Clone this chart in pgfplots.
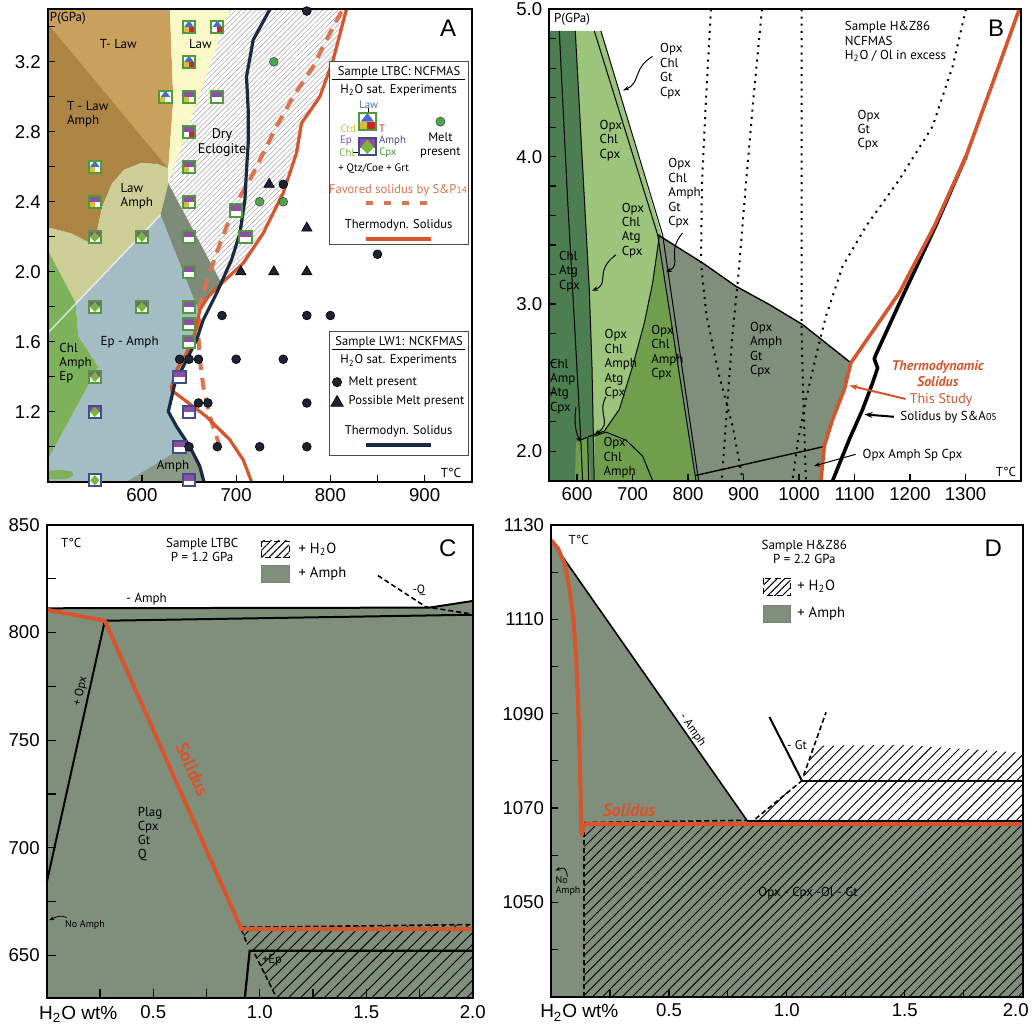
\documentclass[border=0pt]{standalone}
\usepackage{pgfplots}
\pgfplotsset{compat=1.18}
\usepackage{fontspec}
\setmainfont{PT Sans}
\newfontfamily\tickfont{Liberation Sans}
\usetikzlibrary{patterns.meta,arrows.meta}

\definecolor{tlaw}{HTML}{C9A15D}
\definecolor{tlawamph}{HTML}{AC8443}
\definecolor{lawamph}{HTML}{CDCD98}
\definecolor{lawy}{HTML}{FCF9C9}
\definecolor{epamph}{HTML}{A4BCC4}
\definecolor{chlg}{HTML}{7DB25B}
\definecolor{bandg}{HTML}{7E8B78}
\definecolor{amphg}{HTML}{8A9A86}
\definecolor{oran}{HTML}{D6552C}
\definecolor{oranl}{HTML}{DE7350}
\definecolor{navy}{HTML}{1B2A44}
\definecolor{sqgreen}{HTML}{4E9A3C}
\definecolor{sqnavy}{HTML}{3F4D8C}
\definecolor{purp}{HTML}{8D4FA6}
\definecolor{ctdy}{HTML}{D6BE3E}
\definecolor{tred}{HTML}{C8282A}
\definecolor{lawb}{HTML}{4A6CC4}
\definecolor{cpxg}{HTML}{7AB43C}
\definecolor{dotblk}{HTML}{1C2433}
\definecolor{meltg}{HTML}{4FA64A}
\definecolor{gBa}{HTML}{4C7E51}
\definecolor{gBb}{HTML}{9CC47B}
\definecolor{gBc}{HTML}{6F9F4C}
\definecolor{greyg}{HTML}{808F7B}

\pgfdeclareplotmark{amphtop}{\pgfpathrectangle{\pgfpoint{-\pgfplotmarksize}{-0.1\pgfplotmarksize}}{\pgfpoint{2\pgfplotmarksize}{1.1\pgfplotmarksize}}\pgfusepathqfill}
\pgfdeclareplotmark{ctdq}{\pgfpathrectangle{\pgfpoint{-\pgfplotmarksize}{-\pgfplotmarksize}}{\pgfpoint{\pgfplotmarksize}{\pgfplotmarksize}}\pgfusepathqfill}
\pgfdeclareplotmark{tq}{\pgfpathrectangle{\pgfpoint{0pt}{-\pgfplotmarksize}}{\pgfpoint{\pgfplotmarksize}{\pgfplotmarksize}}\pgfusepathqfill}
\pgfdeclareplotmark{lawtri}{\pgfpathmoveto{\pgfpoint{-0.75\pgfplotmarksize}{0pt}}\pgfpathlineto{\pgfpoint{0.75\pgfplotmarksize}{0pt}}\pgfpathlineto{\pgfpoint{0pt}{\pgfplotmarksize}}\pgfpathclose\pgfusepathqfill}
\pgfdeclareplotmark{cpxdia}{\pgfpathmoveto{\pgfpoint{0pt}{0.8\pgfplotmarksize}}\pgfpathlineto{\pgfpoint{0.75\pgfplotmarksize}{-0.05\pgfplotmarksize}}\pgfpathlineto{\pgfpoint{0pt}{-0.85\pgfplotmarksize}}\pgfpathlineto{\pgfpoint{-0.75\pgfplotmarksize}{-0.05\pgfplotmarksize}}\pgfpathclose\pgfusepathqfill}

\newcommand\labA{\fontsize{6.5}{7}\selectfont}
\newcommand\labB{\fontsize{6.5}{7.2}\selectfont}
\newcommand\legf{\fontsize{6.3}{7}\selectfont}
\newcommand\smallf{\fontsize{5.4}{6}\selectfont}
\newcommand\bigL{\tickfont\fontsize{12}{13}\selectfont}

\pgfplotsset{panel/.style={
  scale only axis, clip=false, axis on top,
  axis line style={line width=0.9pt},
  tick align=inside, tick pos=left,
  major tick length=3.5pt, minor tick length=3.5pt,
  tick style={black, line width=0.6pt},
  tick label style={font=\tickfont\fontsize{9.3}{10}\selectfont},
  /pgf/number format/assume math mode=true,
  /pgf/number format/1000 sep={},
}}

\begin{document}
\begin{tikzpicture}[x=1pt,y=1pt]
\path[use as bounding box] (0,0) rectangle (516,-512.5);

%%%%%%%%%%%%%%%%%%%%%%%%%%%%%% PANEL A
\begin{axis}[panel, at={(23.85pt,-4.65pt)}, anchor=north west, width=212pt, height=236.2pt,
  xmin=500, xmax=950, ymin=0.8, ymax=3.5,
  xtick={600,700,800,900}, xticklabels={600,700,800,900}, minor xtick={550,650,750,850},
  ytick={1.2,1.6,2.0,2.4,2.8,3.2}, yticklabels={1.2,1.6,2.0,2.4,2.8,3.2},
  minor ytick={1.0,1.4,1.8,2.2,2.6,3.0,3.4}]
\addplot[draw=none, fill=tlaw] coordinates {(500,3.5)(629.7,3.5)(633.3,2.982)(628,2.59)(500,3.42)} -- cycle;
\addplot[draw=none, fill=tlawamph] coordinates {(500,3.42)(628,2.59)(616.2,2.616)(598.6,2.62)(580.9,2.582)(568.5,2.506)(557.9,2.372)(552.6,2.239)(545.6,2.163)(524.4,2.22)(500,2.254)} -- cycle;
\addplot[draw=none, fill=lawamph] coordinates {(500,2.254)(524.4,2.22)(545.6,2.163)(552.6,2.239)(557.9,2.372)(568.5,2.506)(580.9,2.582)(598.6,2.62)(616.2,2.616)(628,2.59)(628,2.506)(619.8,2.325)(500,1.649)} -- cycle;
\addplot[draw=none, fill=lawy] coordinates {(629.7,3.5)(693.4,3.5)(628,2.506)(628,2.59)(633.3,2.982)} -- cycle;
\addplot[draw=none, fill=epamph] coordinates {(529.7,1.82)(619.8,2.325)(656.9,1.82)(661.5,1.782)(658,1.61)(647.4,1.496)(635,1.363)(628,1.201)(636.8,1.115)(650.9,1.0)(661.5,0.887)(665.8,0.8)(500,0.8)(500,0.925)(553.7,1.458)(532.5,1.63)} -- cycle;
\addplot[draw=none, fill=chlg] coordinates {(500,2.124)(529.7,1.82)(532.5,1.63)(553.7,1.458)(500,0.925)} -- cycle;
\addplot[draw=none, fill=chlg] coordinates {(500,0.862)(515,0.868)(526,0.858)(527,0.835)(520,0.815)(500,0.815)} -- cycle;
\addplot[draw=none, fill=amphg] coordinates {(583.8,0.8)(642.1,0.991)(650.9,1.0)(661.5,0.887)(665.8,0.8)} -- cycle;
\addplot[draw=none, fill=bandg] coordinates {(628,2.506)(684.5,1.934)(670.4,1.858)(661.5,1.782)(656.9,1.82)(619.8,2.325)} -- cycle;
\addplot[draw=none, pattern={Lines[angle=45,distance=1.8pt,line width=0.3pt]}, pattern color=gray!65] coordinates {(693.4,3.5)(817.1,3.5)(802.9,3.21)(788.8,3.0)(769.4,2.849)(764,2.677)(749.9,2.449)(728.7,2.22)(707.5,2.049)(684.5,1.934)(628,2.506)} -- cycle;
\addplot[white, line width=0.7pt, opacity=0.7] coordinates {(500,1.649)(619.8,2.325)};
% solidus lines
\addplot[oranl, line width=2pt, dash pattern=on 6pt off 4pt] coordinates {(811.8,3.487)(799.4,3.363)(781.7,3.172)(760.5,3.0)(742.8,2.83)(728.7,2.677)(714.6,2.525)(704,2.43)(689.8,2.258)(679.2,2.106)(670.4,1.972)(665.1,1.877)(661.5,1.8)(659.8,1.649)(661.5,1.496)(665.1,1.344)(672.1,1.172)(682.7,1.0)};
\addplot[oran, line width=1.6pt, line join=round] coordinates {(817.1,3.5)(802.9,3.21)(788.8,3.0)(769.4,2.849)(764,2.677)(749.9,2.449)(728.7,2.22)(707.5,2.049)(684.5,1.934)(670.4,1.858)(661.5,1.782)(656.2,1.649)(647.4,1.534)(636.8,1.439)(631.5,1.344)(632,1.32)(640.3,1.287)(668.6,1.172)(693.4,1.039)(707.5,0.925)(716.3,0.8)};
\addplot[navy, line width=1.6pt, line join=round] coordinates {(735.8,3.5)(718.1,3.325)(711,3.115)(712.8,2.925)(712.8,2.734)(711,2.582)(709.3,2.41)(704,2.22)(695.1,2.068)(679.2,1.877)(665.1,1.725)(658,1.61)(647.4,1.496)(635,1.363)(628,1.201)(636.8,1.115)(650.9,1.0)(661.5,0.887)(665.8,0.8)};
% experiment squares
\addplot[only marks, mark=square*, mark size=3.1pt, mark options={fill=white, draw=none}] coordinates {(650,3.4)(680,3.4)(650,3.2)(625,3.0)(650,3.0)(680,3.0)(650,2.8)(550,2.6)(650,2.6)(550,2.4)(650,2.4)(700,2.35)(550,2.2)(600,2.2)(650,2.2)(710,2.2)(650,2.0)(550,1.8)(600,1.8)(650,1.8)(650,1.7)(650,1.6)(550,1.4)(640,1.4)(550,1.2)(650,1.2)(640,1.0)(550,0.81)(650,0.81)};
\addplot[only marks, mark=amphtop, mark size=3.1pt, color=purp] coordinates {(650,3.0)(680,3.0)(650,2.8)(650,2.6)(550,2.4)(650,2.4)(700,2.35)(550,2.2)(600,2.2)(650,2.2)(710,2.2)(650,2.0)(550,1.8)(600,1.8)(650,1.8)(650,1.7)(650,1.6)(550,1.4)(640,1.4)(550,1.2)(650,1.2)(640,1.0)(650,0.81)};
\addplot[only marks, mark=ctdq, mark size=3.1pt, color=ctdy] coordinates {(650,3.4)(650,3.2)(625,3.0)(650,3.0)(550,2.6)(650,2.6)(550,2.4)(650,2.4)};
\addplot[only marks, mark=tq, mark size=3.1pt, color=tred] coordinates {(650,3.4)(680,3.4)(650,3.2)(650,2.8)};
\addplot[only marks, mark=lawtri, mark size=3.1pt, color=lawb] coordinates {(650,3.4)(680,3.4)(650,3.2)(625,3.0)(550,2.6)};
\addplot[only marks, mark=cpxdia, mark size=3.1pt, color=cpxg] coordinates {(550,2.2)(600,2.2)(550,1.8)(600,1.8)(550,1.4)(550,1.2)(550,0.81)};
\addplot[only marks, mark=square, mark size=3.1pt, mark options={draw=sqgreen, line width=1pt}] coordinates {(650,3.4)(680,3.4)(650,3.2)(625,3.0)(650,3.0)(680,3.0)(650,2.8)(550,2.6)(650,2.6)(550,2.4)(650,2.4)(700,2.35)(550,2.2)(600,2.2)(650,2.2)(710,2.2)(650,2.0)(550,1.8)(600,1.8)(650,1.8)(650,1.7)(650,1.6)(550,1.4)};
\addplot[only marks, mark=square, mark size=3.1pt, mark options={draw=sqnavy, line width=1pt}] coordinates {(640,1.4)(550,1.2)(650,1.2)(640,1.0)(550,0.81)(650,0.81)};
% melt markers
\addplot[only marks, mark=*, mark size=2.2pt, mark options={fill=dotblk, draw=black, line width=0.3pt}] coordinates {(775,3.49)(750,2.5)(685,1.75)(775,1.75)(800,1.75)(640,1.5)(650,1.5)(660,1.5)(700,1.5)(750,1.5)(660,1.25)(670,1.25)(775,1.25)(650,1.0)(680,1.0)(725,1.0)(775,1.0)(850,2.1)};
\addplot[only marks, mark=triangle*, mark size=3pt, mark options={fill=dotblk, draw=black, line width=0.3pt}] coordinates {(735,2.5)(705,2.0)(740,2.0)(775,2.0)(775,2.25)};
\addplot[only marks, mark=*, mark size=2.2pt, mark options={fill=meltg, draw=black!70, line width=0.3pt}] coordinates {(740,3.2)(725,2.4)(750,2.4)};
% labels
\node[font=\labA] at (axis cs:575,3.3) {T- Law};
\node[font=\labA] at (axis cs:662,3.3) {Law};
\node[font=\labA, align=left, anchor=west] at (axis cs:513,2.9) {T - Law\\Amph};
\node[font=\fontsize{7}{7.6}\selectfont, align=center] at (axis cs:685,2.74) {Dry\\Eclogite};
\node[font=\labA, align=left, anchor=west] at (axis cs:570,2.43) {Law\\Amph};
\node[font=\labA] at (axis cs:587,1.595) {Ep - Amph};
\node[font=\labA, align=left, anchor=west] at (axis cs:505,1.48) {Chl\\Amph\\Ep};
\node[font=\labA] at (axis cs:633,0.89) {Amph};
\node[font=\bigL] at (axis cs:925,3.39) {A};
\node[font=\labA, anchor=west, inner sep=0pt] at (axis cs:502,3.45) {P(GPa)};
\node[font=\labA] at (axis cs:928,0.852) {T°C};
% legend 1
\draw[gray!60!black, line width=0.5pt, fill=white] (axis cs:798.6,3.2) rectangle (axis cs:946.8,2.153);
\node[font=\legf] at (axis cs:873,3.138) {Sample LTBC: NCFMAS};
\draw[black, line width=0.5pt] (axis cs:802,3.096) -- (axis cs:943,3.096);
\node[font=\legf] at (axis cs:872.5,3.039) {H\textsubscript{2}O sat. Experiments};
\addplot[only marks, mark=square*, mark size=4.4pt, mark options={fill=white, draw=none}] coordinates {(839.3,2.858)(839.3,2.715)};
\addplot[only marks, mark=lawtri, mark size=4.4pt, color=lawb] coordinates {(839.3,2.858)};
\addplot[only marks, mark=ctdq, mark size=4.4pt, color=ctdy] coordinates {(839.3,2.858)};
\addplot[only marks, mark=tq, mark size=4.4pt, color=tred] coordinates {(839.3,2.858)};
\addplot[only marks, mark=amphtop, mark size=4.4pt, color=purp] coordinates {(839.3,2.715)};
\addplot[only marks, mark=cpxdia, mark size=4.4pt, color=cpxg] coordinates {(839.3,2.715)};
\addplot[only marks, mark=square, mark size=4.4pt, mark options={draw=sqgreen, line width=1pt}] coordinates {(839.3,2.858)};
\addplot[only marks, mark=square, mark size=4.4pt, mark options={draw=sqnavy, line width=1pt}] coordinates {(839.3,2.715)};
\draw[black, line width=0.4pt] (axis cs:840.7,2.935) -- (axis cs:840.7,2.895);
\draw[black, line width=0.4pt] (axis cs:824,2.681) -- (axis cs:838,2.681);
\node[font=\smallf, text=lawb] at (axis cs:840.7,2.953) {Law};
\node[font=\smallf, text=ctdy] at (axis cs:819,2.82) {Ctd};
\node[font=\smallf, text=tred] at (axis cs:855,2.82) {T};
\node[font=\smallf, text=purp] at (axis cs:816.5,2.749) {Ep};
\node[font=\smallf, text=sqnavy] at (axis cs:866,2.749) {Amph};
\node[font=\smallf, text=cpxg] at (axis cs:817.7,2.681) {Chl};
\node[font=\smallf, text=sqgreen] at (axis cs:861,2.681) {Cpx};
\node[font=\smallf] at (axis cs:846,2.591) {+ Qtz/Coe + Grt};
\addplot[only marks, mark=*, mark size=2.3pt, mark options={fill=meltg, draw=black!70, line width=0.3pt}] coordinates {(916.8,2.858)};
\node[font=\legf, align=center] at (axis cs:916.8,2.725) {Melt\\present};
\node[font=\legf, text=oranl] at (axis cs:871.8,2.463) {Favored solidus by S\&P{\fontsize{4.8}{5}\selectfont 14}};
\addplot[oranl, line width=2pt, dash pattern=on 3.5pt off 5.5pt] coordinates {(838.3,2.391)(907.2,2.391)};
\node[font=\legf] at (axis cs:872.5,2.263) {Thermodyn. Solidus};
\addplot[oran, line width=2pt] coordinates {(838.3,2.187)(907.2,2.187)};
% legend 2
\draw[gray!60!black, line width=0.5pt, fill=white] (axis cs:798.6,1.658) rectangle (axis cs:946.8,0.947);
\node[font=\legf] at (axis cs:873,1.595) {Sample LW1: NCKFMAS};
\draw[black, line width=0.5pt] (axis cs:802,1.553) -- (axis cs:943,1.553);
\node[font=\legf] at (axis cs:872.5,1.492) {H\textsubscript{2}O sat. Experiments};
\addplot[only marks, mark=*, mark size=2.3pt, mark options={fill=dotblk, draw=black, line width=0.3pt}] coordinates {(807.1,1.369)};
\node[font=\legf, anchor=west] at (axis cs:812,1.369) {Melt present};
\addplot[only marks, mark=triangle*, mark size=3.6pt, mark options={fill=dotblk, draw=black, line width=0.3pt}] coordinates {(807.1,1.252)};
\node[font=\legf, anchor=west] at (axis cs:812,1.258) {Possible Melt present};
\node[font=\legf] at (axis cs:872.5,1.086) {Thermodyn. Solidus};
\addplot[navy, line width=2pt] coordinates {(838.3,1.010)(907.2,1.010)};
\end{axis}

%%%%%%%%%%%%%%%%%%%%%%%%%%%%%% PANEL B
\begin{axis}[panel, at={(274.65pt,-4.65pt)}, anchor=north west, width=235.85pt, height=235.7pt,
  xmin=550, xmax=1400, ymin=1.8, ymax=5.0,
  xtick={600,700,800,900,1000,1100,1200,1300}, xticklabels={600,700,800,900,1000,1100,1200,1300},
  ytick={2,3,4,5}, yticklabels={2.0,3.0,4.0,5.0},
  minor ytick={2.2,2.4,2.6,2.8,3.2,3.4,3.6,3.8,4.2,4.4,4.6,4.8}]
\addplot[draw=none, fill=gBa] coordinates {(550,4.853)(596.8,4.853)(610,3.933)(622.1,3.097)(626.9,2.577)(629.3,2.125)(631,1.8)(550,1.8)} -- cycle;
\addplot[draw=none, fill=gBb] coordinates {(596.8,4.853)(643.1,4.853)(752,3.47)(748.2,3.459)(736.2,3.142)(721.2,2.871)(700.2,2.577)(676.1,2.284)(649.1,2.137)(631.1,2.114)(629.3,2.125)(626.9,2.577)(622.1,3.097)(610,3.933)} -- cycle;
\addplot[draw=none, fill=greyg] coordinates {(745.2,3.47)(826.3,3.278)(886.3,3.12)(946.4,2.996)(1006.5,2.86)(1093.5,2.6)(1081.5,2.419)(1060.5,2.216)(1045.5,2.035)(1039.5,1.8)(814.3,1.8)} -- cycle;
\addplot[draw=none, fill=gBc] coordinates {(748.2,3.459)(736.2,3.142)(721.2,2.871)(700.2,2.577)(676.1,2.284)(649.1,2.137)(631.1,2.114)(631,1.8)(814.3,1.8)(745.2,3.47)} -- cycle;
\addplot[draw=none, fill=gBc] coordinates {(598,2.06)(619,2.09)(625,1.8)(596,1.8)} -- cycle;
% boundaries
\addplot[black, line width=0.5pt] coordinates {(568,4.853)(583,3.707)(598,2.69)(607,2.058)(610,1.8)};
\addplot[black, line width=0.5pt] coordinates {(596.8,4.853)(610,3.933)(622.1,3.097)(626.9,2.577)(629.3,2.125)(631,1.8)};
\addplot[black, line width=0.5pt] coordinates {(619,2.09)(621,1.8)};
\addplot[black, line width=0.5pt] coordinates {(631.1,4.853)(745.2,3.47)(814.3,1.8)};
\addplot[black, line width=0.5pt] coordinates {(643.1,4.853)(754.2,3.47)(819.1,1.8)};
\addplot[black, line width=0.5pt] coordinates {(750,3.47)(748.2,3.459)(736.2,3.142)(721.2,2.871)(700.2,2.577)(676.1,2.284)(649.1,2.137)(631.1,2.114)(605,2.075)};
\addplot[black, line width=0.5pt] coordinates {(631.1,2.103)(652.1,2.13)(688.1,2.076)(718.2,1.967)(736.2,1.8)};
\addplot[black, line width=0.7pt] coordinates {(745.2,3.47)(826.3,3.278)(886.3,3.12)(946.4,2.996)(1006.5,2.86)(1093.5,2.6)};
\addplot[black, line width=0.7pt] coordinates {(814.3,1.836)(1048.5,2.035)};
% dotted
\addplot[black, line width=1pt, dash pattern=on 1pt off 2.6pt] coordinates {(841.3,5.0)(832.3,4.385)(825.1,3.82)(823.3,3.278)(833.5,2.916)(856.3,2.51)(880.3,2.171)(898.3,1.81)};
\addplot[black, line width=1pt, dash pattern=on 1pt off 2.6pt] coordinates {(933.2,5.0)(917.6,4.385)(904.4,3.82)(891.1,3.21)(880.3,2.803)(871.3,2.351)(861.1,1.81)};
\addplot[black, line width=1pt, dash pattern=on 1pt off 2.6pt] coordinates {(1004.7,5.0)(1004.7,2.803)(1007.7,2.351)(1012.5,1.81)};
\addplot[black, line width=1pt, dash pattern=on 1pt off 2.6pt] coordinates {(1300.8,5.0)(1276.7,4.611)(1240.7,4.205)(1180.6,3.843)(1120.6,3.527)(1078.5,3.255)(1048.5,2.916)(1030.5,2.645)(1012.5,2.351)(997.4,2.058)(988.4,1.81)};
% solidi
\addplot[black, line width=1.8pt, line join=round] coordinates {(1300.8,4.001)(1246,3.527)(1184,3.03)(1138.6,2.657)(1135.6,2.627)(1141.6,2.566)(1132.6,2.464)(1114.6,2.284)(1090.5,2.08)(1060.5,1.8)};
\addplot[oran, line width=1.8pt, line join=round] coordinates {(1396.8,5.0)(1348.8,4.498)(1300.8,4.001)(1243.7,3.527)(1180.6,3.075)(1126.6,2.781)(1093.5,2.6)(1081.5,2.419)(1060.5,2.216)(1045.5,2.035)(1039.5,1.8)};
% pointer arrows
\draw[black, line width=0.5pt, -{Stealth[length=3pt]}] (axis cs:736,4.68) .. controls (axis cs:700,4.6) and (axis cs:715,4.5) .. (axis cs:683,4.45);
\draw[black, line width=0.5pt, -{Stealth[length=3pt]}] (axis cs:670,3.334) .. controls (axis cs:630,3.22) and (axis cs:660,3.14) .. (axis cs:627,3.09);
\draw[black, line width=0.5pt, -{Stealth[length=3pt]}] (axis cs:790,3.481) .. controls (axis cs:760,3.35) and (axis cs:790,3.27) .. (axis cs:760,3.215);
\draw[black, line width=0.5pt, -{Stealth[length=3pt]}] (axis cs:652,2.37) .. controls (axis cs:635,2.25) and (axis cs:665,2.19) .. (axis cs:631,2.114);
\draw[black, line width=0.5pt, -{Stealth[length=3pt]}] (axis cs:598,2.3) .. controls (axis cs:594,2.2) and (axis cs:598,2.12) .. (axis cs:607,2.06);
\draw[oran, line width=1pt, -{Stealth[length=4pt]}] (axis cs:1192,2.355) -- (axis cs:1091,2.446);
\draw[black, line width=1pt, -{Stealth[length=4pt]}] (axis cs:1171,2.234) -- (axis cs:1118,2.25);
\draw[black, line width=0.5pt, -{Stealth[length=3pt]}] (axis cs:1102,1.979) -- (axis cs:1027,1.9);
% labels
\node[font=\labB, align=left, anchor=west] at (axis cs:737,4.58) {Opx\\Chl\\Gt\\Cpx};
\node[font=\labB, align=left, anchor=west] at (axis cs:628,4.11) {Opx\\Chl\\Cpx};
\node[font=\labB, align=left, anchor=west] at (axis cs:752,3.75) {Opx\\Chl\\Amph\\Gt\\Cpx};
\node[font=\labB, align=left, anchor=west] at (axis cs:668,3.5) {Opx\\Chl\\Atg\\Cpx};
\node[font=\labB, align=left, anchor=west] at (axis cs:555,3.22) {Chl\\Atg\\Cpx};
\node[font=\labB, align=left, anchor=west] at (axis cs:637,2.59) {Opx\\Chl\\Amph\\Atg\\Cpx};
\node[font=\labB, align=left, anchor=west] at (axis cs:721,2.67) {Opx\\Chl\\Amph\\Cpx};
\node[font=\labB, align=left, anchor=west] at (axis cs:899,2.69) {Opx\\Amph\\Gt\\Cpx};
\node[font=\labB, align=left, anchor=west, inner sep=0.5pt] at (axis cs:549,2.44) {Chl\\Amp\\Atg\\Cpx};
\node[font=\labB, align=left, anchor=west] at (axis cs:635,1.955) {Opx\\Chl\\Amph};
\node[font=\labB, align=left, anchor=west] at (axis cs:1093,4.18) {Opx\\Gt\\Cpx};
\node[font=\labB, align=left, anchor=west] at (axis cs:1070,4.78) {Sample H\&Z86\\NCFMAS\\H\textsubscript{2}O / Ol in excess};
\node[font=\bigL] at (axis cs:1355,4.87) {B};
\node[font=\labB, anchor=west, inner sep=0pt] at (axis cs:558,4.93) {P(GPa)};
\node[font=\labB] at (axis cs:1373,1.86) {T°C};
\node[font=\fontsize{7}{8}\bfseries\itshape\selectfont, text=oran, align=center] at (axis cs:1250,2.53) {Thermodynamic\\Solidus};
\node[font=\fontsize{7}{8}\selectfont, text=oran] at (axis cs:1256,2.35) {This Study};
\node[font=\labB, anchor=west] at (axis cs:1170,2.234) {Solidus by S\&A{\fontsize{5}{5}\selectfont 05}};
\node[font=\labB, anchor=west] at (axis cs:1102,1.975) {Opx Amph Sp Cpx};
\end{axis}

%%%%%%%%%%%%%%%%%%%%%%%%%%%%%% PANEL C
\begin{axis}[panel, at={(23.35pt,-262.5pt)}, anchor=north west, width=213pt, height=236.65pt,
  xmin=0, xmax=2, ymin=630, ymax=850,
  xtick={0.5,1,1.5,2}, xticklabels={0.5,1.0,1.5,2.0}, minor xtick={0.25,0.75,1.25,1.75},
  ytick={650,700,750,800,850}, yticklabels={650,700,750,800,850}, minor ytick={675,725,775,825},
  major tick length=4.5pt, minor tick length=4.5pt]
\addplot[draw=none, fill=greyg] coordinates {(0,811.3)(1.797,811.6)(2.0,814.7)(2.0,630)(0,630)} -- cycle;
\addplot[draw=none, pattern={Lines[angle=45,distance=4.2pt,line width=0.45pt]}, pattern color=black] coordinates {(0.914,662.6)(2.0,664.3)(2.0,630)(1.078,630)(0.977,650.6)(0.953,652.1)(0.935,656)} -- cycle;
\addplot[black, line width=1pt] coordinates {(0,811.3)(1.797,811.6)(2.0,814.7)};
\addplot[black, line width=1pt] coordinates {(0.273,805.5)(2.0,808.3)};
\addplot[black, line width=1pt] coordinates {(0,683.8)(0.273,805.5)};
\addplot[black, line width=0.8pt, dash pattern=on 2.5pt off 1.5pt] coordinates {(1.555,826.5)(1.781,811.9)(2.0,808.6)};
\addplot[black, line width=0.8pt, dash pattern=on 2.5pt off 1.5pt] coordinates {(0.914,663)(2.0,664.3)};
\addplot[black, line width=0.8pt, dash pattern=on 2.5pt off 1.5pt] coordinates {(0.914,662)(0.94,655.5)};
\addplot[black, line width=0.8pt, dash pattern=on 2.5pt off 1.5pt] coordinates {(0.977,650.6)(1.078,630.5)};
\addplot[black, line width=1.1pt] coordinates {(0.93,630)(0.953,652.1)(2.0,652.1)};
\addplot[oran, line width=2pt, line join=round] coordinates {(0,810.6)(0.273,805.5)(0.914,662.2)(2.0,662.2)};
% legend
\draw[black, line width=0.4pt, densely dashed, pattern={Lines[angle=45,distance=2.6pt,line width=0.5pt]}] (axis cs:1.008,842.6) rectangle (axis cs:1.138,834.8);
\draw[gray, line width=0.4pt, fill=greyg] (axis cs:1.008,831.4) rectangle (axis cs:1.138,823.4);
\node[font=\fontsize{7.3}{8}\selectfont, anchor=west] at (axis cs:1.15,838.6) {+ H\textsubscript{2}O};
\node[font=\fontsize{7.3}{8}\selectfont, anchor=west] at (axis cs:1.15,827.4) {+ Amph};
\node[font=\labA, align=center] at (axis cs:0.73,838.4) {Sample LTBC\\P = 1.2 GPa};
\node[font=\labA, anchor=west] at (axis cs:0.035,841.5) {T°C};
\node[font=\bigL] at (axis cs:1.883,839.2) {C};
\node[font=\labA] at (axis cs:0.469,815.6) {- Amph};
\node[font=\fontsize{6}{6}\selectfont] at (axis cs:1.747,819.6) {-Q};
\node[font=\fontsize{6}{6}\selectfont, rotate=77.5] at (axis cs:0.159,772.7) {+ Opx};
\node[font=\fontsize{9}{9}\bfseries\selectfont, text=oran, rotate=-66] at (axis cs:0.684,736.4) {Solidus};
\node[font=\labA, align=left, anchor=west] at (axis cs:0.395,706.2) {Plag\\Cpx\\Gt\\Q};
\node[font=\fontsize{5}{5}\selectfont] at (axis cs:0.18,664.3) {No Amph};
\draw[black, line width=0.4pt, -{Stealth[length=2.5pt]}] (axis cs:0.094,667.6) .. controls (axis cs:0.06,668.5) .. (axis cs:0.012,666.3);
\node[font=\fontsize{6.3}{7}\selectfont] at (axis cs:1.058,647.5) {+Ep};
\node[font=\tickfont\fontsize{9.5}{10}\selectfont, anchor=north, inner sep=0pt] at (axis cs:0.148,626.6) {H\textsubscript{2}O wt\%};
\end{axis}

%%%%%%%%%%%%%%%%%%%%%%%%%%%%%% PANEL D
\begin{axis}[panel, at={(275.5pt,-262.5pt)}, anchor=north west, width=235.85pt, height=235.85pt,
  xmin=0, xmax=2, ymin=1030, ymax=1130,
  xtick={0.5,1,1.5,2}, xticklabels={0.5,1.0,1.5,{\makebox[0pt]{\hspace*{-7pt}2.0}}}, minor xtick={0.25,0.75,1.25,1.75},
  ytick={1050,1070,1090,1110,1130}, yticklabels={1050,1070,1090,1110,1130}, minor ytick={1040,1060,1080,1100,1120}]
\addplot[draw=none, fill=greyg] coordinates {(0,1126.8)(0.832,1067.3)(2.0,1067.3)(2.0,1030)(0,1030)} -- cycle;
\addplot[draw=none, pattern={Lines[angle=45,distance=3.5pt,line width=0.45pt]}, pattern color=black] coordinates {(0.141,1066.6)(2.0,1066.6)(2.0,1030)(0.141,1030)} -- cycle;
\addplot[draw=none, pattern={Lines[angle=45,distance=3.5pt,line width=0.45pt]}, pattern color=black] coordinates {(0.845,1067.3)(1.064,1075.8)(1.092,1079.7)(1.128,1083.2)(1.487,1083.4)(2.0,1081.7)(2.0,1067.3)} -- cycle;
\addplot[black, line width=0.8pt] coordinates {(0,1126.8)(0.832,1067.3)};
\addplot[black, line width=1pt] coordinates {(0.832,1067.3)(2.0,1067.3)};
\addplot[black, line width=1pt] coordinates {(0.926,1089.3)(1.064,1075.8)};
\addplot[black, line width=1pt] coordinates {(1.064,1075.7)(2.0,1075.7)};
\addplot[black, line width=0.8pt, dash pattern=on 2.5pt off 1.5pt] coordinates {(1.071,1076.9)(1.166,1090.3)};
\addplot[black, line width=0.8pt, dash pattern=on 2.5pt off 1.5pt] coordinates {(0.867,1067.7)(1.064,1075.8)};
\addplot[black, line width=0.8pt, dash pattern=on 2.5pt off 1.5pt] coordinates {(0.141,1066.9)(0.832,1067.4)};
\addplot[black, line width=0.8pt, dash pattern=on 2.5pt off 1.5pt] coordinates {(0.141,1066.6)(0.141,1030)};
\addplot[oran, line width=2pt, line join=round] coordinates {(0,1126.8)(0.03,1125)(0.06,1121.5)(0.08,1116)(0.095,1110)(0.106,1102)(0.115,1092)(0.12,1084)(0.125,1074)(0.128,1067)(0.131,1064.3)(0.137,1066.3)(0.15,1066.6)(2.0,1066.6)};
% legend
\draw[black, line width=0.4pt, densely dashed, pattern={Lines[angle=45,distance=2.6pt,line width=0.5pt]}] (axis cs:0.902,1118.7) rectangle (axis cs:1.015,1115.1);
\draw[gray, line width=0.4pt, fill=greyg] (axis cs:0.902,1113) rectangle (axis cs:1.015,1109.3);
\node[font=\fontsize{7.3}{8}\selectfont, anchor=west] at (axis cs:1.015,1117) {+ H\textsubscript{2}O};
\node[font=\fontsize{7.3}{8}\selectfont, anchor=west] at (axis cs:1.015,1111.1) {+ Amph};
\node[font=\labA, align=center] at (axis cs:1.074,1124.3) {Sample H\&Z86\\P = 2.2 GPa};
\node[font=\labA, anchor=west] at (axis cs:0.045,1126.8) {T°C};
\node[font=\bigL] at (axis cs:1.875,1125) {D};
\node[font=\fontsize{6}{6}\selectfont, rotate=-55] at (axis cs:0.6,1086.5) {- Amph};
\node[font=\fontsize{6.3}{6}\selectfont] at (axis cs:1.043,1083.4) {- Gt};
\node[font=\fontsize{9}{9}\bfseries\itshape\selectfont, text=oran] at (axis cs:0.331,1069.6) {Solidus};
\node[font=\fontsize{5}{5}\selectfont, align=left] at (axis cs:0.072,1053.5) {No\\Amph};
\draw[black, line width=0.4pt, -{Stealth[length=2.5pt]}] (axis cs:0.07,1055.5) .. controls (axis cs:0.06,1057.5) .. (axis cs:0.018,1056.8);
\node[font=\labA] at (axis cs:1.09,1051.9) {Opx - Cpx -Ol - Gt};
\node[font=\tickfont\fontsize{9.5}{10}\selectfont, anchor=north, inner sep=0pt] at (axis cs:0.12,1028.4) {H\textsubscript{2}O wt\%};
\end{axis}
\end{tikzpicture}
\end{document}
